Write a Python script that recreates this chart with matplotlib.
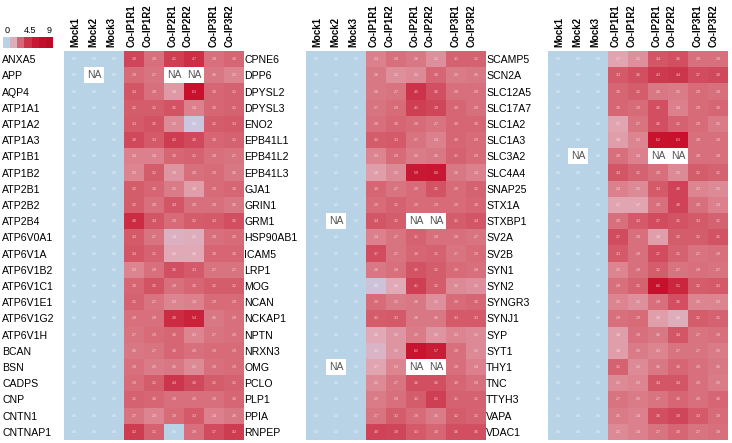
import numpy as np
import matplotlib
matplotlib.use('Agg')
import matplotlib.pyplot as plt
from matplotlib.colors import LinearSegmentedColormap, Normalize

plt.rcParams['font.family'] = ['Liberation Sans', 'DejaVu Sans']

NA = np.nan

colunas = ['Mock1', 'Mock2', 'Mock3', 'Co-IP1R1', 'Co-IP1R2',
           'Co-IP2R1', 'Co-IP2R2', 'Co-IP3R1', 'Co-IP3R2']

genes1 = ['ANXA5', 'APP', 'AQP4', 'ATP1A1', 'ATP1A2', 'ATP1A3', 'ATP1B1', 'ATP1B2',
          'ATP2B1', 'ATP2B2', 'ATP2B4', 'ATP6V0A1', 'ATP6V1A', 'ATP6V1B2', 'ATP6V1C1',
          'ATP6V1E1', 'ATP6V1G2', 'ATP6V1H', 'BCAN', 'BSN', 'CADPS', 'CNP', 'CNTN1', 'CNTNAP1']
mock1 = [[0, 0, 0] for _ in range(24)]
mock1[1] = [0, NA, 0]
coip1 = [
    [3.9, 2.8, 4.1, 4.7, 2.8, 3.0],
    [2.9, 2.7, NA, NA, 2.6, 2.3],
    [3.4, 2.8, 1.9, 6.3, 3.0, 3.1],
    [3.2, 3.2, 3.5, 2.4, 3.0, 3.1],
    [3.3, 3.5, 2.2, 0.8, 3.2, 3.3],
    [3.8, 3.3, 4.2, 3.8, 3.0, 3.1],
    [2.4, 2.4, 3.0, 3.1, 2.8, 2.7],
    [2.3, 3.2, 2.0, 2.8, 2.9, 2.6],
    [3.2, 3.0, 2.5, 1.8, 2.9, 3.0],
    [3.2, 2.8, 3.4, 2.8, 2.8, 2.6],
    [4.8, 3.4, 2.9, 3.2, 3.3, 3.6],
    [3.3, 2.7, 1.4, 1.5, 2.8, 2.9],
    [3.4, 3.1, 1.6, 1.6, 3.0, 3.0],
    [2.3, 2.8, 3.6, 3.3, 2.7, 2.7],
    [3.0, 3.5, 2.8, 3.0, 3.2, 3.2],
    [3.1, 2.7, 2.3, 2.4, 2.9, 2.9],
    [2.8, 2.8, 4.8, 5.4, 2.6, 2.8],
    [2.7, 2.9, 3.0, 2.3, 2.7, 2.8],
    [2.6, 2.7, 3.0, 2.8, 2.9, 2.9],
    [2.8, 2.5, 2.6, 2.2, 2.8, 2.9],
    [2.9, 3.2, 4.4, 3.8, 3.2, 3.1],
    [3.1, 3.0, 2.8, 2.8, 2.8, 3.0],
    [2.7, 2.3, 2.9, 3.3, 2.4, 2.6],
    [4.2, 3.1, 0.0, 2.8, 3.7, 4.2],
]

genes2 = ['CPNE6', 'DPP6', 'DPYSL2', 'DPYSL3', 'ENO2', 'EPB41L1', 'EPB41L2', 'EPB41L3',
          'GJA1', 'GRIN1', 'GRM1', 'HSP90AB1', 'ICAM5', 'LRP1', 'MOG', 'NCAN', 'NCKAP1',
          'NPTN', 'NRXN3', 'OMG', 'PCLO', 'PLP1', 'PPIA', 'RNPEP']
mock2 = [[0, 0, 0] for _ in range(24)]
mock2[10] = [0, NA, 0]
mock2[19] = [0, NA, 0]
coip2 = [
    [2.4, 2.8, 2.6, 2.1, 3.1, 3.1],
    [2.6, 2.1, 2.2, 3.0, 2.5, 2.6],
    [2.6, 2.7, 4.5, 3.6, 2.8, 2.8],
    [2.7, 2.9, 4.1, 3.9, 3.0, 2.8],
    [2.8, 3.0, 2.9, 2.7, 3.0, 3.0],
    [3.2, 3.3, 2.7, 2.4, 3.0, 2.9],
    [2.3, 2.9, 2.5, 2.6, 3.1, 2.9],
    [1.8, 2.2, 5.9, 6.0, 2.6, 2.4],
    [3.0, 2.7, 2.9, 3.5, 2.9, 3.1],
    [2.9, 3.1, 2.9, 2.9, 2.9, 3.0],
    [3.4, 3.2, NA, NA, 3.2, 3.4],
    [2.4, 2.7, 3.1, 2.8, 2.8, 2.7],
    [3.7, 2.7, 3.0, 3.1, 2.7, 2.9],
    [2.6, 2.8, 3.5, 3.2, 2.9, 2.8],
    [0.9, 1.6, 4.1, 3.2, 2.2, 2.1],
    [2.9, 2.5, 2.6, 2.1, 2.9, 3.0],
    [3.2, 3.3, 2.6, 2.6, 3.3, 3.3],
    [1.6, 2.0, 2.5, 2.0, 2.3, 2.2],
    [1.3, 2.0, 6.2, 5.7, 2.8, 2.2],
    [1.7, 2.3, NA, NA, 2.8, 2.4],
    [2.2, 2.7, 3.6, 3.6, 3.0, 2.8],
    [2.5, 2.8, 3.2, 4.1, 3.1, 3.1],
    [2.7, 3.2, 2.9, 2.5, 3.2, 3.1],
    [4.0, 3.9, 3.3, 3.0, 3.6, 3.6],
]

genes3 = ['SCAMP5', 'SCN2A', 'SLC12A5', 'SLC17A7', 'SLC1A2', 'SLC1A3', 'SLC3A2', 'SLC4A4',
          'SNAP25', 'STX1A', 'STXBP1', 'SV2A', 'SV2B', 'SYN1', 'SYN2', 'SYNGR3', 'SYNJ1',
          'SYP', 'SYT1', 'THY1', 'TNC', 'TTYH3', 'VAPA', 'VDAC1']
mock3 = [[0, 0, 0] for _ in range(24)]
mock3[6] = [0, NA, 0]
coip3 = [
    [1.7, 2.1, 3.4, 3.6, 2.8, 2.8],
    [3.3, 3.6, 4.3, 4.4, 3.7, 3.8],
    [3.0, 3.2, 2.6, 2.5, 2.9, 2.8],
    [3.0, 2.9, 3.6, 2.4, 2.9, 3.0],
    [1.7, 2.7, 3.6, 3.1, 2.9, 2.5],
    [1.8, 2.3, 6.2, 6.3, 2.8, 2.8],
    [2.8, 2.4, NA, NA, 2.8, 2.8],
    [3.4, 3.1, 2.8, 2.2, 3.2, 3.1],
    [2.4, 2.2, 3.3, 4.0, 2.3, 2.2],
    [1.7, 1.7, 2.8, 4.0, 2.8, 2.4],
    [2.8, 3.3, 3.7, 3.5, 3.3, 3.1],
    [3.7, 2.8, 1.8, 3.2, 3.2, 3.5],
    [3.3, 2.8, 3.7, 3.1, 2.7, 2.8],
    [2.3, 2.8, 3.2, 2.7, 2.8, 2.7],
    [2.8, 3.1, 6.6, 5.1, 3.2, 3.3],
    [2.3, 2.1, 2.8, 3.6, 2.3, 2.3],
    [2.8, 2.9, 1.8, 1.5, 3.2, 3.1],
    [1.8, 2.8, 2.6, 3.4, 2.7, 2.8],
    [1.8, 2.5, 2.3, 2.7, 2.7, 2.5],
    [3.1, 2.2, 2.6, 3.0, 2.8, 2.6],
    [2.2, 2.3, 3.4, 3.4, 2.8, 2.5],
    [2.7, 2.5, 2.7, 3.0, 2.8, 3.0],
    [2.5, 2.4, 3.6, 3.9, 3.3, 2.9],
    [2.2, 2.4, 2.7, 3.0, 2.7, 2.8],
]

# escala de cores (0 = azul, ~1 = lavanda, acima = vermelho)
pontos = [0.0, 0.8, 1.6, 2.3, 2.8, 3.3, 4.0, 4.8, 6.3, 9.0]
cores = ['#b8d2e6', '#cbc6de', '#e2a9b6', '#dc8591', '#d86f7c', '#d45a69',
         '#cf4257', '#cb2c43', '#c8122e', '#b80c28']
cmap = LinearSegmentedColormap.from_list('coip', list(zip([p / 9 for p in pontos], cores)))
cmap.set_bad('white')
norm = Normalize(0, 9)

W, H = 732, 443
fig = plt.figure(figsize=(W / 100, H / 100), dpi=100)

def eixo_px(x0, y0, x1, y1):
    return fig.add_axes([x0 / W, 1 - y1 / H, (x1 - x0) / W, (y1 - y0) / H])

# posição dos rótulos do topo (pares Co-IP agrupados)
pos_topo = [0.05, 0.95, 1.85, 2.9, 3.7, 4.95, 5.7, 7.0, 7.8]

paineis = [(genes1, mock1, coip1, 64), (genes2, mock2, coip2, 306), (genes3, mock3, coip3, 548)]
for genes, mock, coip, x0 in paineis:
    dados = np.array([m + c for m, c in zip(mock, coip)], dtype=float)
    ax = eixo_px(x0, 51, x0 + 180, 440)
    ax.imshow(dados, cmap=cmap, norm=norm, aspect='auto', interpolation='nearest')
    for i in range(dados.shape[0]):
        for j in range(dados.shape[1]):
            v = dados[i, j]
            if np.isnan(v):
                ax.text(j, i, 'NA', ha='center', va='center', fontsize=7.5, color='#555555')
            else:
                ax.text(j, i, f'{v:.1f}', ha='center', va='center', fontsize=2.6,
                        color='white', alpha=0.75)
    ax.set_yticks(range(len(genes)), genes)
    ax.tick_params(axis='y', length=0, pad=44.5, labelsize=7.6)
    for t in ax.get_yticklabels():
        t.set_ha('left')
    ax.xaxis.tick_top()
    ax.set_xticks(pos_topo, colunas, rotation=90, fontsize=6.9, fontweight='bold')
    ax.tick_params(axis='x', length=0, pad=3)
    for s in ax.spines.values():
        s.set_visible(False)

# barra de cores
cax = eixo_px(3, 37, 53, 48)
passos = np.linspace(0, 9, 7)
cax.imshow(passos[np.newaxis, :], cmap=cmap, norm=norm, aspect='auto', interpolation='nearest')
cax.set_xticks([])
cax.set_yticks([])
for s in cax.spines.values():
    s.set_visible(False)
fig.text(5 / W, 1 - 33 / H, '0', fontsize=6.5, ha='left', va='baseline')
fig.text(30 / W, 1 - 33 / H, '4.5', fontsize=6.5, ha='center', va='baseline')
fig.text(52 / W, 1 - 33 / H, '9', fontsize=6.5, ha='right', va='baseline')

fig.savefig('out.png', dpi=100)
